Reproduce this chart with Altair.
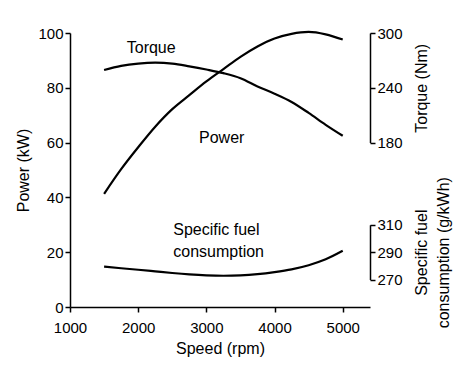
import altair as alt
import pandas as pd

# ---- data ----
rpm = [1500, 1750, 2000, 2250, 2500, 2750, 3000, 3250, 3500, 3750, 4000, 4250, 4500, 4750, 5000]
power_kw = [41.3, 50.3, 58.3, 65.8, 72.2, 77.3, 82.3, 86.8, 91.3, 95.1, 98.0, 99.7, 100.4, 99.5, 97.6]
torque_nm = [259.5, 264.0, 266.5, 267.5, 266.5, 263.5, 260.0, 256.0, 250.5, 241.5, 233.5, 224.5, 212.5, 199.5, 187.5]
sfc_gkwh = [279.5, 278.3, 277.2, 276.0, 274.8, 273.8, 273.1, 272.8, 273.1, 274.0, 275.5, 277.5, 280.5, 284.8, 291.0]

x_ticks = [1000, 2000, 3000, 4000, 5000]
power_ticks = [0, 20, 40, 60, 80, 100]
torque_ticks = [180, 240, 300]
sfc_ticks = [270, 290, 310]

label_text = ["Torque", "Power", "Specific fuel", "consumption"]
label_rpm = [1832, 2892, 2515, 2515]
label_power = [94.7, 61.8, 28.0, 19.9]

W, H = 300, 274
FONT = "Liberation Sans"

df = pd.DataFrame({"rpm": rpm, "power": power_kw, "torque": torque_nm, "sfc": sfc_gkwh})
lab = pd.DataFrame({"rpm": label_rpm, "power": label_power, "text": label_text})

xenc = alt.X("rpm:Q",
             scale=alt.Scale(domain=[1000, 5400], nice=False, zero=False),
             axis=alt.Axis(values=x_ticks, title="Speed (rpm)", format="d",
                           labelPadding=8, titlePadding=5))

line_style = dict(color="black", strokeWidth=2.2, interpolate="monotone")

power = alt.Chart(df).mark_line(**line_style).encode(
    x=xenc,
    y=alt.Y("power:Q", scale=alt.Scale(domain=[0, 100], nice=False),
            axis=alt.Axis(values=power_ticks, title="Power (kW)", orient="left",
                          labelPadding=2, titlePadding=6)),
)

torque = alt.Chart(df).mark_line(**line_style).encode(
    x=xenc,
    y=alt.Y("torque:Q",
            scale=alt.Scale(domain=[180, 300], range=[0.4 * H, 0], nice=False, zero=False),
            axis=alt.Axis(values=torque_ticks, title="Torque (Nm)", orient="right",
                          titleAngle=270, titleAlign="center", titleBaseline="middle",
                          titleX=51, titleY=0.2 * H, labelPadding=2)),
)

sfc = alt.Chart(df).mark_line(**line_style).encode(
    x=xenc,
    y=alt.Y("sfc:Q",
            scale=alt.Scale(domain=[270, 310], range=[0.9 * H, 0.7 * H], nice=False, zero=False),
            axis=alt.Axis(values=sfc_ticks, title=["Specific fuel", "consumption (g/kWh)"],
                          orient="right", titleAngle=270, titleAlign="center",
                          titleBaseline="middle", titleX=51, titleY=0.8 * H,
                          titleLineHeight=22, labelPadding=2)),
)

labels = alt.Chart(lab).mark_text(align="left", baseline="middle", font=FONT,
                                  fontSize=16, color="black").encode(
    x=xenc,
    y=alt.Y("power:Q", scale=alt.Scale(domain=[0, 100], nice=False), axis=None),
    text="text:N",
)

chart = alt.layer(power, torque, sfc, labels).resolve_scale(y="independent").properties(
    width=W, height=H,
    autosize=alt.AutoSizeParams(type="none"),
    padding={"left": 62, "top": 25, "right": 83, "bottom": 70},
).configure_view(stroke=None).configure_axis(
    grid=False, labelFlush=False, labelOverlap=False,
    domainColor="black", domainWidth=1.5,
    tickColor="black", tickWidth=1.5, tickSize=5,
    labelFont=FONT, labelFontSize=15, labelColor="black",
    titleFont=FONT, titleFontSize=16, titleFontWeight="normal", titleColor="black",
)

chart.save("out.html", embed_options={"renderer": "svg", "actions": False})
